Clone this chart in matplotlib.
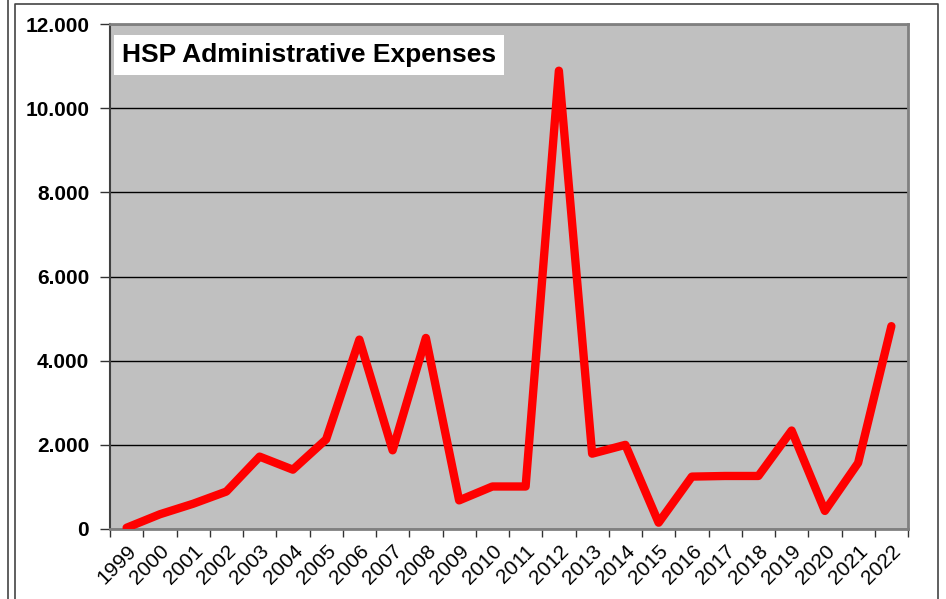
import matplotlib
matplotlib.use("Agg")
import matplotlib.pyplot as plt
from matplotlib.lines import Line2D
from matplotlib.ticker import FuncFormatter, MultipleLocator

years = ["1999", "2000", "2001", "2002", "2003", "2004", "2005", "2006", "2007", "2008",
         "2009", "2010", "2011", "2012", "2013", "2014", "2015", "2016", "2017", "2018",
         "2019", "2020", "2021", "2022"]
expenses = [30, 350, 600, 890, 1720, 1410, 2130, 4500, 1870, 4540,
            680, 1010, 1010, 10890, 1790, 2000, 150, 1245, 1260, 1260,
            2340, 430, 1570, 4820]
title = "HSP Administrative Expenses"

plt.rcParams['font.family'] = ['Liberation Sans', 'DejaVu Sans']

W, H = 946, 599
fig = plt.figure(figsize=(W / 100, H / 100), dpi=100)

# outer frame lines
fig.add_artist(Line2D([8 / W, 8 / W], [0, 1], color='#444444', lw=1.2))
fig.add_artist(Line2D([15 / W, 15 / W, 938 / W, 938 / W], [0, 1 - 4 / H, 1 - 4 / H, 0],
                      color='#444444', lw=1.2))

left, right, top, bottom = 110, 908, 24, 529
ax = fig.add_axes([left / W, 1 - bottom / H, (right - left) / W, (bottom - top) / H])
ax.set_facecolor('#c0c0c0')

x = list(range(len(years)))
ax.plot(x, expenses, color='#ff0000', lw=6, solid_joinstyle='round', solid_capstyle='round', zorder=3)

ax.set_xlim(-0.5, len(years) - 0.5)
ax.set_ylim(0, 12000)
ax.yaxis.set_major_locator(MultipleLocator(2000))
ax.yaxis.set_major_formatter(FuncFormatter(lambda v, p: f"{int(v):,}".replace(",", ".")))
ax.grid(axis='y', color='black', lw=1)
ax.set_axisbelow(True)

ax.set_xticks([i - 0.5 for i in range(len(years) + 1)])
ax.set_xticklabels([])
ax.set_xticks(x, minor=True)
ax.set_xticklabels(years, minor=True, rotation=45, ha='right', va='top',
                   rotation_mode='anchor', fontsize=15)
ax.tick_params(axis='x', which='minor', length=0, pad=9)
ax.tick_params(axis='x', which='major', length=6, width=1, color='#333333', direction='out')
ax.tick_params(axis='y', length=7, width=1, color='#333333', direction='out', pad=8)
for lab in ax.get_yticklabels():
    lab.set_fontweight('bold')
    lab.set_fontsize(15)

for s in ['top', 'right']:
    ax.spines[s].set_color('#808080')
    ax.spines[s].set_linewidth(2)
ax.spines['bottom'].set_color('#808080')
ax.spines['bottom'].set_linewidth(2)
ax.spines['left'].set_color('#404040')
ax.spines['left'].set_linewidth(1.5)

ax.text((122 - left) / (right - left), 1 - (62 - top) / (bottom - top), title,
        transform=ax.transAxes, fontsize=19, fontweight='bold',
        ha='left', va='baseline', zorder=5,
        bbox=dict(facecolor='white', edgecolor='none', boxstyle='square,pad=0.3'))

fig.savefig('out.png', dpi=100)
